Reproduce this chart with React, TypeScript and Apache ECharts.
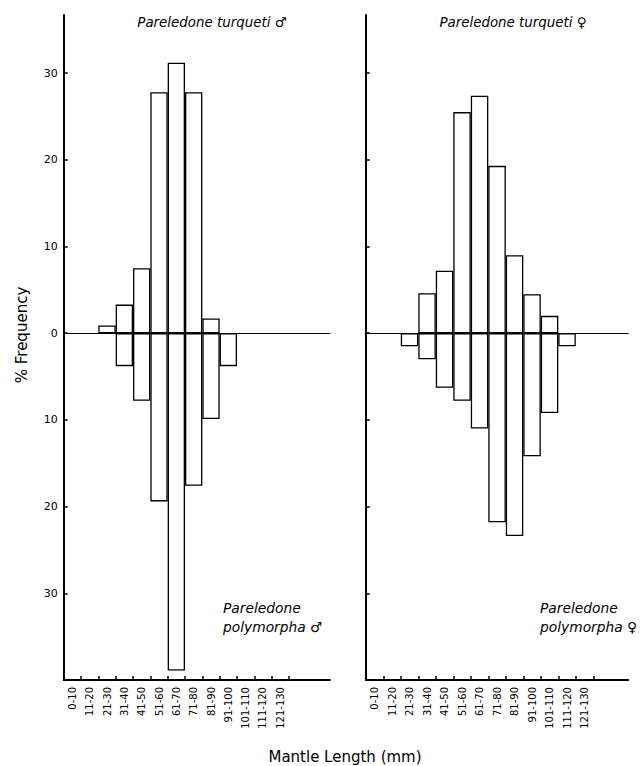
import React, { useEffect, useRef } from "react";
import * as echarts from "echarts";

const categories = ["0-10", "11-20", "21-30", "31-40", "41-50", "51-60", "61-70", "71-80", "81-90", "91-100", "101-110", "111-120", "121-130"];
const emptyBins = ["", ""];
const turquetiMale = [0, 0, 0.9, 3.3, 7.5, 27.8, 31.2, 27.8, 1.7, 0, 0, 0, 0];
const polymorphaMale = [0, 0, 0, 3.8, 7.8, 19.4, 38.9, 17.6, 9.9, 3.8, 0, 0, 0];
const turquetiFemale = [0, 0, 0, 4.6, 7.2, 25.5, 27.4, 19.3, 9.0, 4.5, 2.0, 0, 0];
const polymorphaFemale = [0, 0, 1.5, 3.0, 6.3, 7.8, 11.0, 21.8, 23.4, 14.2, 9.2, 1.5, 0];
const yTicks = [-30, -20, -10, 0, 10, 20, 30];

const FONT = "DejaVu Sans";

export default function App() {
  const ref = useRef<HTMLDivElement>(null);
  useEffect(() => {
    if (!ref.current) return;
    const chart = echarts.init(ref.current, null, { renderer: "svg" });
    const TOP = 15;
    const H = 665;
    const YMIN = -40;
    const YMAX = 36.7;
    // visible frames (axes), and bar frames (whole bins only)
    const frames = [
      { left: 63.7, width: 266.3, bin: 17.33 },
      { left: 365.8, width: 262.5, bin: 17.5 },
    ];
    const nBins = categories.length + emptyBins.length;
    const grid = [
      ...frames.map((f) => ({ left: f.left, top: TOP, width: f.width, height: H })),
      ...frames.map((f) => ({ left: f.left, top: TOP, width: f.bin * nBins, height: H })),
    ];
    const tickVals = categories.map((_, i) => i + 1);
    const labelVals = categories.map((_, i) => i + 0.5);
    const xAxis: any[] = [];
    const yAxis: any[] = [];
    frames.forEach((f, i) => {
      xAxis.push({
        type: "value",
        gridIndex: i,
        min: 0,
        max: f.width / f.bin,
        position: "bottom",
        axisLine: { show: true, onZero: false, lineStyle: { color: "#000", width: 2 } },
        axisTick: { show: true, inside: true, length: 4, lineStyle: { color: "#000", width: 1.5 }, customValues: tickVals },
        axisLabel: {
          customValues: labelVals,
          rotate: 90,
          margin: 7,
          fontSize: 10,
          fontFamily: FONT,
          color: "#000",
          formatter: (v: number) => categories[Math.floor(v)] ?? "",
        },
        splitLine: { show: false },
      });
      yAxis.push({
        type: "value",
        gridIndex: i,
        min: YMIN,
        max: YMAX,
        axisLine: { show: true, lineStyle: { color: "#000", width: 2 } },
        axisTick: { show: true, inside: true, length: 4, lineStyle: { color: "#000", width: 1.5 }, customValues: yTicks },
        axisLabel: {
          show: i === 0,
          customValues: yTicks,
          margin: 6,
          fontSize: 11,
          fontFamily: FONT,
          color: "#000",
          formatter: (v: number) => String(Math.abs(v)),
        },
        splitLine: { show: false },
      });
    });
    frames.forEach((f, i) => {
      xAxis.push({
        type: "category",
        gridIndex: 2 + i,
        data: [...categories, ...emptyBins],
        boundaryGap: true,
        show: false,
      });
      yAxis.push({ type: "value", gridIndex: 2 + i, min: YMIN, max: YMAX, show: false });
    });
    // zero lines across each frame, drawn above the bars
    frames.forEach((f, i) => {
      xAxis.push({
        type: "value",
        gridIndex: i,
        min: 0,
        max: f.width / f.bin,
        z: 10,
        axisLine: { show: true, onZero: true, onZeroAxisIndex: i, lineStyle: { color: "#000", width: 1 } },
        axisTick: { show: false },
        axisLabel: { show: false },
        splitLine: { show: false },
      });
    });
    const toData = (arr: number[], sign: number) => arr.map((v) => (v === 0 ? "-" : sign * v));
    const panels = [
      [turquetiMale, polymorphaMale],
      [turquetiFemale, polymorphaFemale],
    ];
    const barStyle = { color: "#fff", borderColor: "#000", borderWidth: 1.3 };
    const series: any[] = [];
    panels.forEach((p, i) => {
      [1, -1].forEach((sign, k) => {
        series.push({
          type: "bar",
          xAxisIndex: 2 + i,
          yAxisIndex: 2 + i,
          stack: "s" + i,
          barCategoryGap: "0%",
          silent: true,
          data: toData(p[k], sign),
          itemStyle: barStyle,
        });
      });
    });
    chart.setOption({
      animation: false,
      backgroundColor: "#fff",
      grid,
      xAxis,
      yAxis,
      series,
      graphic: [
        { type: "text", x: 212, y: 22, style: { text: "Pareledone turqueti ♂", font: `italic 13.4px "${FONT}"`, fill: "#000", align: "center", verticalAlign: "middle" } },
        { type: "text", x: 513, y: 22, style: { text: "Pareledone turqueti ♀", font: `italic 13.4px "${FONT}"`, fill: "#000", align: "center", verticalAlign: "middle" } },
        { type: "text", x: 223, y: 608, style: { text: "Pareledone", font: `italic 13.8px "${FONT}"`, fill: "#000", align: "left", verticalAlign: "middle" } },
        { type: "text", x: 223, y: 627, style: { text: "polymorpha ♂", font: `italic 13.8px "${FONT}"`, fill: "#000", align: "left", verticalAlign: "middle" } },
        { type: "text", x: 540, y: 608, style: { text: "Pareledone", font: `italic 13.8px "${FONT}"`, fill: "#000", align: "left", verticalAlign: "middle" } },
        { type: "text", x: 540, y: 627, style: { text: "polymorpha ♀", font: `italic 13.8px "${FONT}"`, fill: "#000", align: "left", verticalAlign: "middle" } },
        { type: "text", x: 345, y: 757, style: { text: "Mantle Length (mm)", font: `15px "${FONT}"`, fill: "#000", align: "center", verticalAlign: "middle" } },
        { type: "text", x: 22, y: 335, rotation: Math.PI / 2, style: { text: "% Frequency", font: `15px "${FONT}"`, fill: "#000", align: "center", verticalAlign: "middle" } },
      ],
    });
    return () => chart.dispose();
  }, []);
  return <div ref={ref} style={{ position: "fixed", left: 0, top: 0, width: 642, height: 766 }} />;
}
